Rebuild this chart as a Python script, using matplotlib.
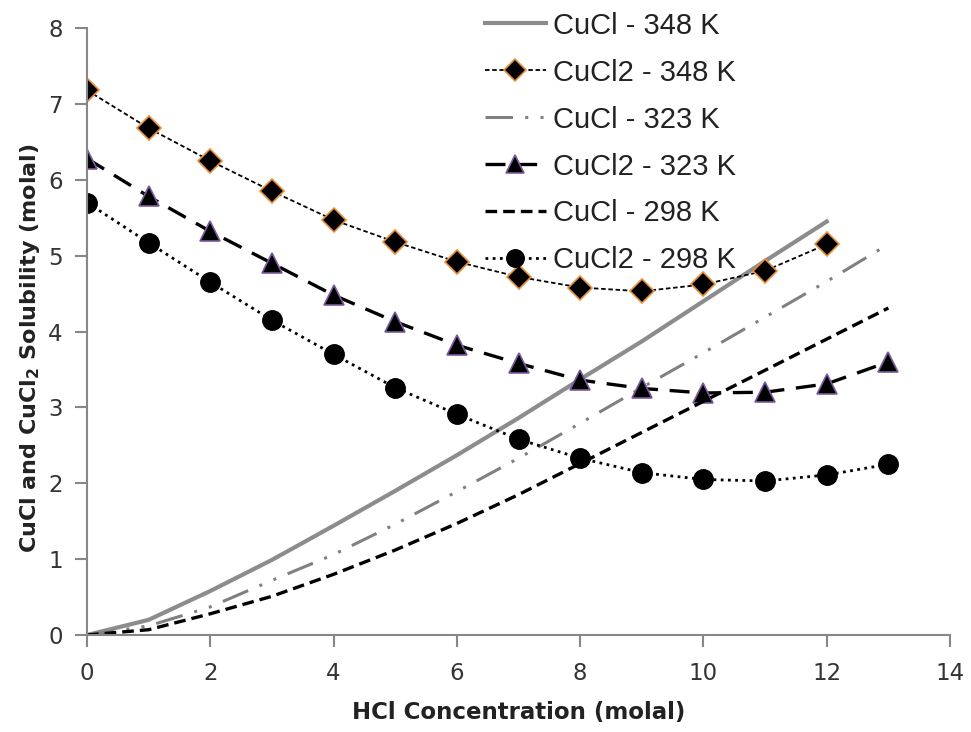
import matplotlib
matplotlib.use("Agg")
import matplotlib.pyplot as plt

# HCl concentration (molal)
x_cucl2 = [0, 1, 2, 3, 4, 5, 6, 7, 8, 9, 10, 11, 12, 13]

# CuCl2 solubility (molal)
cucl2_348 = [7.18, 6.68, 6.25, 5.85, 5.47, 5.18, 4.92, 4.72, 4.58, 4.53, 4.62, 4.80, 5.15]
cucl2_323 = [6.28, 5.78, 5.32, 4.90, 4.48, 4.13, 3.82, 3.58, 3.36, 3.25, 3.19, 3.20, 3.31, 3.60]
cucl2_298 = [5.70, 5.17, 4.65, 4.15, 3.70, 3.26, 2.91, 2.58, 2.33, 2.14, 2.05, 2.03, 2.11, 2.25]

# CuCl solubility (molal)
cucl_348 = [0, 0.20, 0.58, 0.99, 1.44, 1.90, 2.37, 2.86, 3.37, 3.87, 4.40, 4.93, 5.45]
cucl_323 = [0, 0.12, 0.37, 0.72, 1.06, 1.46, 1.89, 2.33, 2.79, 3.26, 3.72, 4.19, 4.66, 5.15]
cucl_298 = [0, 0.07, 0.28, 0.51, 0.80, 1.12, 1.47, 1.85, 2.26, 2.67, 3.08, 3.49, 3.90, 4.31]

fig = plt.figure(figsize=(9.71, 7.32), dpi=100)
ax = fig.add_axes([0.0896, 0.1325, 0.8888, 0.8292])

ax.plot(x_cucl2[:len(cucl_348)], cucl_348, color="#8c8c8c", lw=3.0,
        label="CuCl - 348 K")
ax.plot(x_cucl2[:len(cucl2_348)], cucl2_348, color="black", lw=1.3,
        linestyle=(0, (2.5, 1.5)), marker="D", ms=12,
        mfc="black", mec="#E8903A", mew=1.2, label="CuCl2 - 348 K")
ax.plot(x_cucl2, cucl_323, color="#808080", lw=2.2,
        linestyle=(0, (9, 4, 1, 4, 1, 4)), label="CuCl - 323 K")
ax.plot(x_cucl2, cucl2_323, color="black", lw=2.4,
        linestyle=(0, (6, 3.5)), marker="^", ms=14,
        mfc="black", mec="#7A5A9E", mew=1.2, label="CuCl2 - 323 K")
ax.plot(x_cucl2, cucl_298, color="black", lw=2.4,
        linestyle=(0, (3.5, 1.8)), label="CuCl - 298 K")
ax.plot(x_cucl2, cucl2_298, color="black", lw=2.0,
        linestyle=(0, (1, 1.6)), marker="o", ms=14,
        mfc="black", mec="black", label="CuCl2 - 298 K")

ax.set_xlim(0, 14)
ax.set_ylim(0, 8)
ax.set_xticks(range(0, 15, 2))
ax.set_yticks(range(0, 9))

for side in ["top", "right"]:
    ax.spines[side].set_visible(False)
for side in ["left", "bottom"]:
    ax.spines[side].set_color("#878787")
    ax.spines[side].set_linewidth(1.5)
ax.tick_params(axis="both", colors="#878787", labelcolor="#333333",
               length=8.5, width=1.5, labelsize=16.5, direction="out")
ax.tick_params(axis="x", pad=11)
ax.tick_params(axis="y", pad=9)

ax.set_xlabel("HCl Concentration (molal)", fontsize=16.5, fontweight="bold",
              color="#222222")
ax.set_ylabel(r"CuCl and CuCl$_\mathbf{2}$ Solubility (molal)", fontsize=16,
              fontweight="bold", color="#222222")
ax.xaxis.set_label_coords(0.5, -0.108)
ax.yaxis.set_label_coords(-0.052, 0.473)

ax.legend(loc="upper left", bbox_to_anchor=(0.478, 1.012), bbox_transform=fig.transFigure,
          frameon=False, prop={"family": "Liberation Sans", "size": 21},
          handlelength=2.1, handletextpad=0.25, borderpad=0.2,
          labelspacing=0.65, markerscale=0.9, labelcolor="#222222")

fig.savefig("out.png", dpi=100)
